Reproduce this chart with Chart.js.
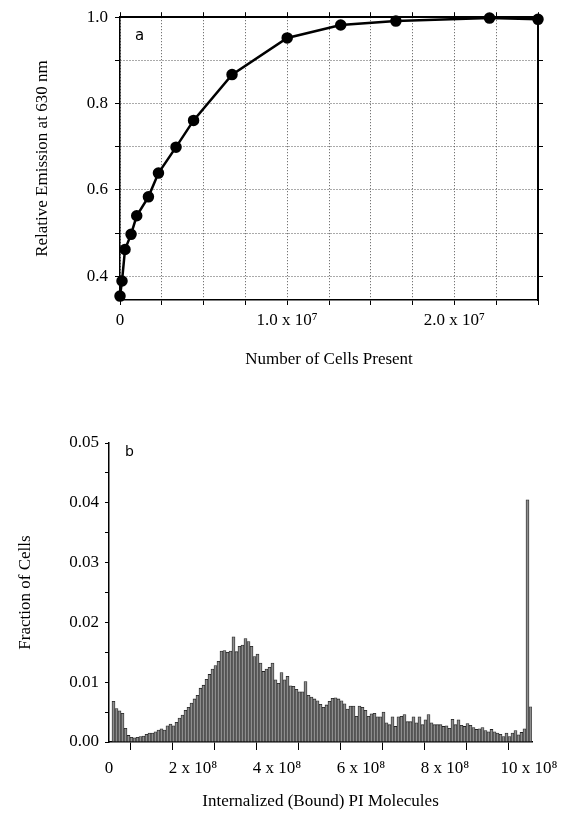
<!DOCTYPE html>
<html>
<head>
<meta charset="utf-8">
<script src="https://cdn.jsdelivr.net/npm/chart.js@4/dist/chart.umd.min.js"></script>
<style>
  html, body { margin: 0; padding: 0; background: #fff; }
  body { width: 576px; height: 821px; position: relative; overflow: hidden; }
  .box { position: absolute; left: 0; width: 576px; }
</style>
</head>
<body>
<div class="box" style="top:0;height:380px"><canvas id="chart-a" width="576" height="380"></canvas></div>
<div class="box" style="top:400px;height:421px"><canvas id="chart-b" width="576" height="421"></canvas></div>
<script>
// panel a: emission vs number of cells
const cellCounts = [0, 1.2e5, 3.0e5, 6.6e5, 1.0e6, 1.7e6, 2.3e6, 3.35e6, 4.4e6, 6.7e6, 1.0e7, 1.32e7, 1.65e7, 2.21e7, 2.5e7];
const relEmission = [0.354, 0.389, 0.462, 0.497, 0.540, 0.584, 0.639, 0.699, 0.761, 0.867, 0.952, 0.982, 0.991, 0.998, 0.995];
const cellTicks = [0, 2.5e6, 5e6, 7.5e6, 1e7, 1.25e7, 1.5e7, 1.75e7, 2e7, 2.25e7, 2.5e7];
const cellTickLabels = { 0: "0", 10000000: "1.0 x 10\u2077", 20000000: "2.0 x 10\u2077" };
const emissionTicks = [0.4, 0.5, 0.6, 0.7, 0.8, 0.9, 1.0];
const emissionTickLabels = ["0.4", "", "0.6", "", "0.8", "", "1.0"];

// panel b: histogram of internalized PI molecules
const binWidth = 1e9 / 140;
const fractionOfCells = [
    0.0000, 0.0068, 0.0056, 0.0052, 0.0048, 0.0023, 0.0011, 0.0008, 0.0007, 0.0008,
    0.0009, 0.0010, 0.0013, 0.0015, 0.0015, 0.0017, 0.0020, 0.0022, 0.0020, 0.0027,
    0.0030, 0.0027, 0.0033, 0.0040, 0.0045, 0.0053, 0.0058, 0.0065, 0.0072, 0.0078,
    0.0090, 0.0095, 0.0105, 0.0113, 0.0122, 0.0128, 0.0135, 0.0152, 0.0153, 0.0150,
    0.0152, 0.0176, 0.0151, 0.0160, 0.0162, 0.0173, 0.0168, 0.0160, 0.0143, 0.0147,
    0.0132, 0.0118, 0.0122, 0.0125, 0.0132, 0.0104, 0.0098, 0.0116, 0.0104, 0.0110,
    0.0094, 0.0093, 0.0088, 0.0084, 0.0084, 0.0101, 0.0078, 0.0075, 0.0072, 0.0069,
    0.0063, 0.0058, 0.0062, 0.0068, 0.0073, 0.0074, 0.0072, 0.0069, 0.0064, 0.0055,
    0.0060, 0.0060, 0.0043, 0.0060, 0.0058, 0.0053, 0.0043, 0.0047, 0.0048, 0.0042,
    0.0042, 0.0050, 0.0032, 0.0029, 0.0042, 0.0026, 0.0042, 0.0043, 0.0046, 0.0034,
    0.0034, 0.0042, 0.0032, 0.0042, 0.0029, 0.0037, 0.0046, 0.0032, 0.0029, 0.0029,
    0.0029, 0.0026, 0.0027, 0.0023, 0.0038, 0.0029, 0.0037, 0.0028, 0.0026, 0.0031,
    0.0028, 0.0024, 0.0021, 0.0022, 0.0024, 0.0019, 0.0017, 0.0021, 0.0017, 0.0015,
    0.0013, 0.0009, 0.0015, 0.0009, 0.0015, 0.0019, 0.0012, 0.0016, 0.0022, 0.0405,
    0.0059
];
const moleculeTicks = [0, 1e8, 2e8, 3e8, 4e8, 5e8, 6e8, 7e8, 8e8, 9e8, 1e9];
const moleculeTickLabels = ["0", "", "2 x 10\u2078", "", "4 x 10\u2078", "", "6 x 10\u2078", "", "8 x 10\u2078", "", "10 x 10\u2078"];
const fractionTicks = [0, 0.005, 0.01, 0.015, 0.02, 0.025, 0.03, 0.035, 0.04, 0.045, 0.05];
const fractionTickLabels = ["0.00", "", "0.01", "", "0.02", "", "0.03", "", "0.04", "", "0.05"];

const serif = "'Liberation Serif', 'Times New Roman', serif";
const tickFont = { family: serif, size: 17 };
const titleFont = { family: serif, size: 17 };

// small panel letter in the corner of the plot area
const panelLetter = {
    id: "panelLetter",
    afterDraw(chart, args, opts) {
        const { ctx, chartArea } = chart;
        ctx.save();
        ctx.font = opts.size + "px 'DejaVu Sans', sans-serif";
        ctx.fillStyle = "#000";
        ctx.textBaseline = "middle";
        ctx.fillText(opts.text, chartArea.left + opts.dx, chartArea.top + opts.dy);
        ctx.restore();
    }
};

function setTicks(list) {
    return scale => { scale.ticks = list.map(v => ({ value: v })); };
}

(function initPanelA() {
    const points = cellCounts.map((c, i) => ({ x: c, y: relEmission[i] }));
    new Chart(document.getElementById("chart-a"), {
        type: "line",
        data: {
            datasets: [{
                data: points,
                borderColor: "#000",
                borderWidth: 2.5,
                pointRadius: 4.5,
                pointBackgroundColor: "#000",
                pointBorderColor: "#000",
                tension: 0,
                clip: false
            }]
        },
        options: {
            responsive: false,
            devicePixelRatio: 1,
            animation: false,
            layout: { padding: { left: 0, right: 30, top: 9, bottom: 0 } },
            plugins: {
                legend: { display: false },
                tooltip: { enabled: false },
                panelLetter: { text: "a", dx: 15, dy: 19, size: 15 }
            },
            scales: {
                x: {
                    type: "linear", min: 0, max: 2.5e7,
                    afterBuildTicks: setTicks(cellTicks),
                    afterFit: s => { s.height = 80; },
                    grid: { color: "#555", tickColor: "#000", tickLength: 5 },
                    border: { color: "#000", width: 1.5, dash: [1, 2] },
                    ticks: {
                        autoSkip: false, maxRotation: 0, padding: 5, color: "#000", font: tickFont,
                        callback: v => cellTickLabels[v] || ""
                    },
                    title: { display: true, text: "Number of Cells Present", color: "#000", font: titleFont, padding: { top: 0, bottom: 10 } }
                },
                y: {
                    type: "linear", min: 0.345, max: 1.0,
                    afterBuildTicks: setTicks(emissionTicks),
                    afterFit: s => { s.width = 120; },
                    grid: { color: "#555", tickColor: "#000", tickLength: 5 },
                    border: { color: "#000", width: 1.5, dash: [1, 2] },
                    ticks: {
                        autoSkip: false, padding: 7, color: "#000", font: tickFont,
                        callback: (v, i) => emissionTickLabels[i]
                    },
                    title: { display: true, text: "Relative Emission at 630 nm", color: "#000", font: titleFont, padding: { top: 32, bottom: 0 } }
                },
                x2: {
                    type: "linear", position: "top", min: 0, max: 2.5e7,
                    afterBuildTicks: setTicks(cellTicks),
                    afterFit: s => { s.height = 6; },
                    grid: { drawOnChartArea: false, tickColor: "#000", tickLength: 5 },
                    border: { color: "#000", width: 2 },
                    ticks: { display: false }
                },
                y2: {
                    type: "linear", position: "right", min: 0.345, max: 1.0,
                    afterBuildTicks: setTicks(emissionTicks),
                    afterFit: s => { s.width = 8; },
                    grid: { drawOnChartArea: false, tickColor: "#000", tickLength: 5 },
                    border: { color: "#000", width: 2 },
                    ticks: { display: false }
                }
            }
        },
        plugins: [panelLetter]
    });
})();

(function initPanelB() {
    const bars = fractionOfCells.map((f, i) => ({ x: (i + 0.5) * binWidth, y: f }));
    new Chart(document.getElementById("chart-b"), {
        type: "bar",
        data: {
            datasets: [{
                data: bars,
                backgroundColor: "#8e8e8e",
                borderColor: "#222",
                borderWidth: 0.8,
                borderSkipped: "start",
                barPercentage: 1,
                categoryPercentage: 1
            }]
        },
        options: {
            responsive: false,
            devicePixelRatio: 1,
            animation: false,
            layout: { padding: { left: 0, right: 44, top: 43, bottom: 0 } },
            plugins: {
                legend: { display: false },
                tooltip: { enabled: false },
                panelLetter: { text: "b", dx: 16, dy: 9, size: 14 }
            },
            scales: {
                x: {
                    type: "linear", min: 0, max: 141 * binWidth, offset: false,
                    afterBuildTicks: setTicks(moleculeTicks),
                    afterFit: s => { s.height = 79; },
                    grid: { drawOnChartArea: false, tickColor: "#000", tickLength: 8 },
                    border: { color: "#000", width: 1.5 },
                    ticks: {
                        autoSkip: false, maxRotation: 0, padding: 8, color: "#000", font: tickFont,
                        callback: (v, i) => moleculeTickLabels[i]
                    },
                    title: { display: true, text: "Internalized (Bound) PI Molecules", color: "#000", font: titleFont, padding: { top: 0, bottom: 9 } }
                },
                y: {
                    type: "linear", min: 0, max: 0.05,
                    afterBuildTicks: setTicks(fractionTicks),
                    afterFit: s => { s.width = 109; },
                    grid: { drawOnChartArea: false, tickColor: "#000", tickLength: 4 },
                    border: { color: "#000", width: 1.5 },
                    ticks: {
                        autoSkip: false, padding: 6, color: "#000", font: tickFont,
                        callback: (v, i) => fractionTickLabels[i]
                    },
                    title: { display: true, text: "Fraction of Cells", color: "#000", font: titleFont, padding: { top: 15, bottom: 0 } }
                }
            }
        },
        plugins: [panelLetter]
    });
})();
</script>
</body>
</html>
